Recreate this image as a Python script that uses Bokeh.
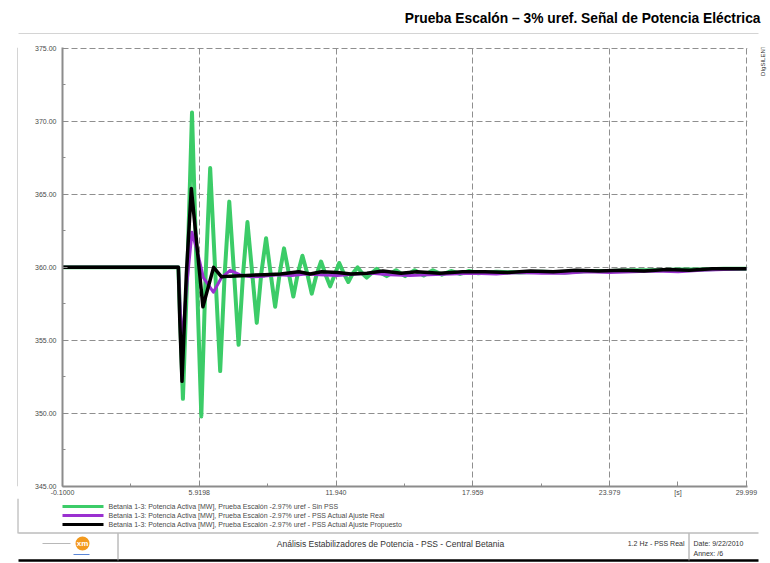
import math
from bokeh.plotting import figure
from bokeh.models import Range1d, FixedTicker, NumeralTickFormatter
from bokeh.layouts import column, row
from bokeh.embed import file_html
from bokeh.resources import INLINE
from bokeh.core.properties import value

FONT = "Liberation Sans"

# ---------------- data ----------------
title_text = "Prueba Escalón – 3% uref. Señal de Potencia Eléctrica"

x_ticks = [-0.1, 5.9198, 11.940, 17.959, 23.979, 29.999]
x_tick_labels = ["-0.1000", "5.9198", "11.940", "17.959", "23.979", "29.999"]
x_minor = [2.9099, 8.9297, 14.9496, 20.9695, 26.989]
x_unit = "[s]"
y_ticks = [345, 350, 355, 360, 365, 370, 375]
y_minor = [347.5, 352.5, 357.5, 362.5, 367.5, 372.5]

series_names = [
    "Betania 1-3: Potencia Activa [MW], Prueba Escalón -2.97% uref - Sin PSS",
    "Betania 1-3: Potencia Activa [MW], Prueba Escalón -2.97% uref - PSS Actual Ajuste Real",
    "Betania 1-3: Potencia Activa [MW], Prueba Escalón -2.97% uref - PSS Actual Ajuste Propuesto",
]

green_t = [-0.1, 5.0, 5.2, 5.4, 5.6, 5.8, 6.01, 6.2, 6.4, 6.62, 6.84, 7.04, 7.24, 7.45, 7.65,
           7.85, 8.04, 8.25, 8.45, 8.65, 8.86, 9.06, 9.26, 9.46, 9.65, 9.86, 10.06, 10.26,
           10.46, 10.67, 10.87, 11.08, 11.28, 11.48, 11.68, 11.88, 12.08, 12.28, 12.48, 12.68,
           12.89, 13.09, 13.29, 13.5, 13.73, 13.95, 14.17, 14.58, 14.98, 15.4, 15.8, 16.2,
           16.6, 17.0, 17.4, 17.8, 18.2, 19.0, 20.0, 21.0, 22.0, 23.0, 24.0, 25.0, 26.0,
           27.0, 28.0, 29.0, 30.0]
green_v = [360, 360, 351.0, 360.0, 370.6, 360.0, 349.8, 359.5, 366.8, 359.8, 352.9, 359.6,
           364.5, 359.6, 354.7, 359.6, 363.1, 359.6, 356.2, 359.6, 362.0, 359.6, 357.3, 359.6,
           361.3, 359.6, 358.0, 359.6, 360.8, 359.6, 358.2, 359.5, 360.4, 359.5, 358.7, 359.5,
           360.3, 359.6, 359.0, 359.6, 360.0, 359.6, 359.3, 359.6, 359.9, 359.6, 359.4, 359.8,
           359.4, 359.8, 359.45, 359.8, 359.5, 359.75, 359.55, 359.75, 359.6, 359.7, 359.65,
           359.7, 359.65, 359.75, 359.75, 359.8, 359.8, 359.85, 359.85, 359.9, 359.9]

purple_t = [-0.1, 5.0, 5.1, 5.18, 5.35, 5.6, 5.85, 6.1, 6.54, 6.9, 7.28, 7.7, 8.2, 8.8, 9.4,
            10.0, 10.6, 11.2, 12.0, 12.8, 13.5, 14.3, 15.2, 16.0, 17.0, 18.0, 19.0, 20.0,
            21.0, 22.0, 23.0, 24.0, 25.0, 26.0, 27.0, 28.0, 29.0, 30.0]
purple_v = [360, 360, 356.5, 355.0, 358.5, 362.4, 361.0, 359.3, 358.3, 359.3, 359.8, 359.5,
            359.35, 359.4, 359.5, 359.45, 359.55, 359.5, 359.45, 359.55, 359.6, 359.5, 359.45,
            359.5, 359.55, 359.6, 359.55, 359.65, 359.6, 359.6, 359.7, 359.65, 359.7, 359.75,
            359.7, 359.8, 359.85, 359.9]

black_t = [-0.1, 5.0, 5.06, 5.16, 5.35, 5.57, 6.08, 6.55, 6.9, 7.3, 8.0, 8.8, 9.5, 10.3,
           10.8, 11.3, 12.0, 12.6, 13.3, 14.0, 14.8, 15.5, 16.5, 17.5, 18.5, 19.5, 20.5,
           21.5, 22.5, 23.5, 24.5, 25.5, 26.5, 27.5, 28.5, 30.0]
black_v = [360, 360, 356.5, 352.2, 359.5, 365.4, 357.3, 360.0, 359.35, 359.4, 359.45, 359.5,
           359.55, 359.7, 359.55, 359.7, 359.65, 359.55, 359.6, 359.75, 359.6, 359.7, 359.6,
           359.7, 359.7, 359.65, 359.75, 359.7, 359.8, 359.75, 359.8, 359.75, 359.85, 359.8,
           359.9, 359.9]

footer_main = "Análisis Estabilizadores de Potencia - PSS - Central Betania"
footer_mid = "1.2 Hz - PSS Real"
footer_date = "Date: 9/22/2010"
footer_annex = "Annex: /6"
brand = "DIgSILENT"

GREEN = "#3ccc68"
PURPLE = "#9a30d0"
BLACK = "#000000"
AX = "#8c8c8c"
TXT = "#4a4a4a"
RULE = "#a8a8a8"
colors = [GREEN, PURPLE, BLACK]
widths = [4.0, 3.0, 3.5]


def deco(w, h):
    """A plain figure in pixel units used for the report frame decorations."""
    f = figure(width=w, height=h, x_range=Range1d(0, w), y_range=Range1d(0, h),
               toolbar_location=None, output_backend="svg", min_border=0,
               x_axis_location=None, y_axis_location=None)
    f.outline_line_color = None
    f.grid.visible = False
    f.background_fill_color = "white"
    f.border_fill_color = "white"
    return f


def txt(f, x, y, s, size, align="left", bold=False, color="#333333", angle=0.0):
    f.text(x=[x], y=[y], text=[s], text_align=align, text_baseline="middle",
           text_font=value(FONT), text_font_size=size,
           text_font_style="bold" if bold else "normal", text_color=color, angle=angle)


# ---------------- title (page y 0..34) ----------------
tf = deco(770, 34)
txt(tf, 760, 16, title_text, "13.8px", align="right", bold=True, color="black")
tf.segment(x0=[18], y0=[0.5], x1=[758], y1=[0.5], line_color=RULE, line_width=1)

# ---------------- left strip (page x 0..18) ----------------
ls = deco(18, 464)
ls.segment(x0=[17.5], y0=[0], x1=[17.5], y1=[464], line_color=RULE, line_width=1)

# ---------------- main chart (page x 18..759, y 34..498) ----------------
p = figure(width=741, height=464, x_range=Range1d(-0.1, 30.05), y_range=Range1d(345, 375.05),
           toolbar_location=None, output_backend="svg",
           min_border_left=44, min_border_right=12, min_border_top=13, min_border_bottom=11)
p.outline_line_color = None
p.background_fill_color = "white"
p.border_fill_color = "white"

xt = FixedTicker(ticks=x_ticks + [x_minor[-1]], minor_ticks=x_minor[:-1])
yt = FixedTicker(ticks=y_ticks, minor_ticks=y_minor)
p.xaxis.ticker = xt
p.yaxis.ticker = yt
p.xgrid.ticker = FixedTicker(ticks=x_ticks)
p.ygrid.ticker = FixedTicker(ticks=y_ticks)
overrides = {t: s for t, s in zip(x_ticks, x_tick_labels)}
overrides[x_minor[-1]] = x_unit
p.xaxis.major_label_overrides = overrides
p.yaxis.formatter = NumeralTickFormatter(format="0.00")

for ax in (p.xaxis[0], p.yaxis[0]):
    ax.axis_line_color = AX
    ax.axis_line_width = 2
    ax.major_tick_line_color = AX
    ax.minor_tick_line_color = AX
    ax.major_tick_in = 5
    ax.major_tick_out = 0
    ax.minor_tick_in = 3
    ax.minor_tick_out = 0
    ax.major_label_text_font = FONT
    ax.major_label_text_font_size = "7px"
    ax.major_label_text_color = TXT
p.xaxis.major_label_standoff = 2
p.yaxis.major_label_standoff = 6

for g in (p.xgrid[0], p.ygrid[0]):
    g.grid_line_color = "#8f8f8f"
    g.grid_line_dash = "6 3"
    g.grid_line_width = 1

for t, v, c, w in zip([green_t, purple_t, black_t], [green_v, purple_v, black_v], colors, widths):
    p.line(t, v, line_color=c, line_width=w, line_join="round")

# ---------------- right strip (page x 759..770) ----------------
rs = deco(11, 464)
txt(rs, 3, 464 - 14, brand, "6px", align="center", color="#333333", angle=math.pi / 2)

# ---------------- legend + footer (page y 498..563) ----------------
bf = deco(770, 65)
bf.segment(x0=[17.5], y0=[65], x1=[17.5], y1=[30], line_color=RULE, line_width=1)
leg_y = [57, 48, 39]
for yy, c, w, name in zip(leg_y, colors, widths, series_names):
    bf.segment(x0=[62], y0=[yy], x1=[103], y1=[yy], line_color=c, line_width=3)
    txt(bf, 108, yy, name, "7px", color=TXT)

bf.segment(x0=[18, 18, 117.5, 688.5], y0=[30.5, 3, 3, 3], x1=[758, 758, 117.5, 688.5],
           y1=[30.5, 3, 30, 30], line_color=["#9a9a9a", "#000000", "#9a9a9a", "#9a9a9a"],
           line_width=[1, 2.5, 1, 1])
bf.segment(x0=[42], y0=[20], x1=[70], y1=[20], line_color="#b8b8b8", line_width=1)
bf.segment(x0=[73], y0=[9], x1=[89], y1=[9], line_color="#5b86d6", line_width=1)
bf.scatter(x=[82], y=[20], size=14, marker="circle", fill_color="#f39a1e", line_color=None)
txt(bf, 82, 20, "xm", "8px", align="center", bold=True, color="white")
txt(bf, 390, 20, footer_main, "8.5px", align="center")
txt(bf, 684, 20, footer_mid, "7px", align="right")
txt(bf, 693, 20, footer_date, "7px")
txt(bf, 693, 10, footer_annex, "7px")

layout = column(tf, row(ls, p, rs, spacing=0), bf, spacing=0)

open("out.html", "w").write(file_html(layout, INLINE))
